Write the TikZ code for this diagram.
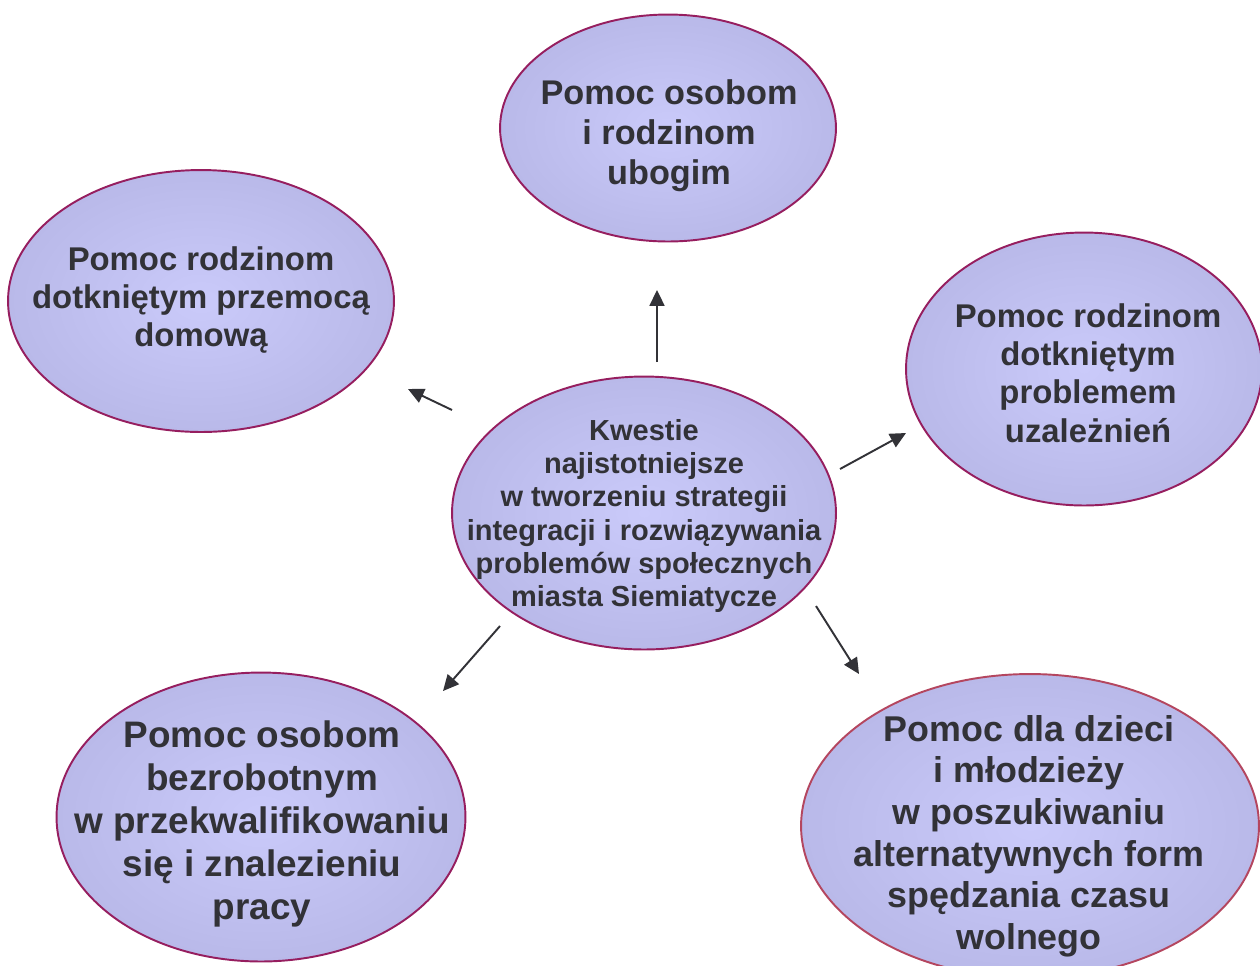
\documentclass[tikz,border=0pt]{standalone}
\usepackage{fontspec}
\setmainfont{Liberation Sans}
\usetikzlibrary{shapes.geometric, arrows.meta}
\definecolor{bubblein}{RGB}{202,202,250}
\definecolor{bubbleout}{RGB}{168,168,216}
\definecolor{plumline}{RGB}{150,30,95}
\definecolor{roseline}{RGB}{180,70,95}
\definecolor{inkgray}{RGB}{50,50,55}
\pgfdeclareradialshading{bubbleshade}{\pgfpoint{0bp}{0bp}}{color(0bp)=(bubblein); color(50bp)=(bubbleout)}

\begin{document}
\begin{tikzpicture}[x=0.02cm, y=-0.02cm,
  bubble/.style={ellipse, draw=plumline, line width=1.1pt, shading=bubbleshade, inner sep=0pt},
  txt/.style={align=center, text=inkgray},
  link/.style={draw=inkgray, line width=1.1pt, -{Triangle[length=9pt,width=8.5pt]}}]
\useasboundingbox (0,0) rectangle (1260,965);

% Bubbles
\node[bubble, minimum width=6.72cm, minimum height=4.54cm] (poor) at (668,128) {};
\node[bubble, minimum width=7.72cm, minimum height=5.24cm] (violence) at (201,301) {};
\node[bubble, minimum width=7.12cm, minimum height=5.46cm] (addict) at (1084,369) {};
\node[bubble, minimum width=7.68cm, minimum height=5.46cm] (issues) at (644,513) {};
\node[bubble, minimum width=8.18cm, minimum height=5.78cm] (jobless) at (261,817) {};
\node[bubble, draw=roseline, minimum width=9.16cm, minimum height=6.08cm] (youth) at (1030,826) {};

% Texts
\node[txt, font=\fontsize{19.5}{22.7}\selectfont\bfseries] (poor-t) at (669,136) {Pomoc osobom\\i rodzinom\\ubogim};
\node[txt, font=\fontsize{18.7}{21.9}\selectfont\bfseries] (violence-t) at (201,300) {Pomoc rodzinom\\dotkniętym przemocą\\domową};
\node[txt, font=\fontsize{18.7}{21.9}\selectfont\bfseries] (addict-t) at (1088,373) {Pomoc rodzinom\\dotkniętym\\problemem\\uzależnień};
\node[txt, font=\fontsize{16.5}{19}\selectfont\bfseries] (issues-t) at (644,516) {Kwestie\\najistotniejsze\\w tworzeniu strategii\\integracji i rozwiązywania\\problemów społecznych\\miasta Siemiatycze};
\node[txt, font=\fontsize{21}{24.4}\selectfont\bfseries] (jobless-t) at (262,824) {Pomoc osobom\\bezrobotnym\\w przekwalifikowaniu\\się i znalezieniu\\pracy};
\node[txt, font=\fontsize{20.4}{23.7}\selectfont\bfseries] (youth-t) at (1029,836) {Pomoc dla dzieci\\i młodzieży\\w poszukiwaniu\\alternatywnych form\\spędzania czasu\\wolnego};

% Arrow ends
\coordinate (up-s) at (657,362);
\coordinate (up-e) at (657,290);
\coordinate (left-s) at (452,410);
\coordinate (left-e) at (408,389);
\coordinate (right-s) at (840,469);
\coordinate (right-e) at (906,433);
\coordinate (dl-s) at (500,626);
\coordinate (dl-e) at (443,691);
\coordinate (dr-s) at (816,606);
\coordinate (dr-e) at (859,674);

% Arrows
\draw[link] (up-s) -- (up-e);
\draw[link] (left-s) -- (left-e);
\draw[link] (right-s) -- (right-e);
\draw[link] (dl-s) -- (dl-e);
\draw[link] (dr-s) -- (dr-e);
\end{tikzpicture}
\end{document}
